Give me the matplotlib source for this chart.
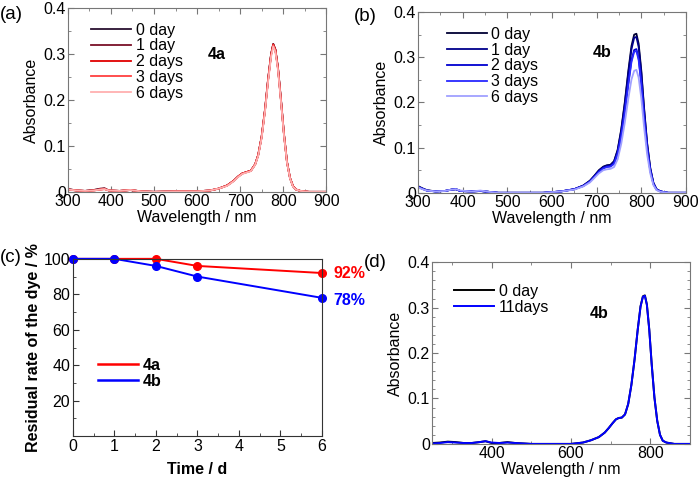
import matplotlib
matplotlib.use("Agg")
import matplotlib.pyplot as plt
from matplotlib.ticker import MultipleLocator
from matplotlib.lines import Line2D

plt.rcParams['font.family'] = ['Liberation Sans', 'DejaVu Sans']
plt.rcParams['font.size'] = 11.5

# ---- data ----
wl_a = [300, 320, 340, 360, 375, 385, 395, 420, 445, 470, 500, 550, 600, 630, 650,
        670, 685, 695, 705, 715, 725, 735, 742, 750, 758, 765, 772, 777, 782, 788,
        795, 802, 809, 816, 823, 830, 840, 860, 900]
abs_a = [
    [.006, .003, .002, .004, .006, .007, .003, .002, .004, .001, .000, .001, .001, .003, .007,
     .014, .024, .033, .040, .043, .046, .060, .080, .120, .180, .245, .300, .322, .310, .270,
     .200, .125, .065, .030, .012, .005, .002, .000, .000],
    [.006, .003, .002, .004, .007, .008, .003, .002, .004, .001, .000, .001, .001, .003, .007,
     .014, .024, .033, .040, .043, .046, .060, .080, .120, .180, .245, .300, .322, .310, .270,
     .200, .125, .065, .030, .012, .005, .002, .000, .000],
    [.005, .003, .002, .003, .005, .006, .003, .002, .004, .001, .000, .001, .001, .003, .007,
     .014, .024, .033, .040, .043, .046, .060, .080, .120, .180, .244, .299, .321, .309, .269,
     .199, .124, .064, .030, .012, .005, .002, .000, .000],
    [.005, .003, .002, .003, .005, .006, .003, .002, .004, .001, .000, .001, .001, .003, .007,
     .014, .024, .033, .040, .043, .046, .060, .080, .119, .179, .243, .298, .320, .308, .268,
     .198, .124, .064, .030, .012, .005, .002, .000, .000],
    [.005, .003, .002, .003, .005, .006, .003, .002, .004, .001, .000, .001, .001, .003, .007,
     .013, .023, .032, .039, .042, .045, .059, .078, .117, .176, .240, .294, .317, .305, .265,
     .196, .122, .063, .029, .011, .005, .002, .000, .000],
]
labels_a = ['0 day', '1 day', '2 days', '3 days', '6 days']
colors_a = ['#2a1030', '#7a1028', '#e00000', '#ff4040', '#ffb0b0']

wl_b = [300, 310, 320, 340, 360, 375, 385, 395, 420, 440, 460, 480, 520, 580, 620,
        650, 670, 685, 695, 705, 715, 723, 731, 739, 747, 755, 763, 771, 778, 784,
        789, 794, 800, 806, 813, 820, 827, 834, 843, 860, 900]
abs_b = [
    [.015, .010, .006, .003, .004, .007, .008, .004, .003, .004, .002, .000, .000, .000, .003,
     .008, .016, .027, .038, .050, .058, .061, .062, .070, .095, .140, .200, .270, .325, .350,
     .352, .330, .270, .190, .110, .055, .022, .008, .003, .000, .000],
    [.014, .009, .005, .003, .004, .007, .008, .004, .003, .004, .002, .000, .000, .000, .003,
     .008, .016, .026, .037, .049, .057, .060, .061, .069, .093, .137, .196, .265, .318, .343,
     .345, .323, .265, .186, .108, .054, .022, .008, .003, .000, .000],
    [.013, .009, .005, .003, .004, .007, .008, .004, .003, .004, .002, .000, .000, .000, .003,
     .008, .015, .025, .036, .047, .055, .058, .059, .065, .087, .127, .181, .244, .294, .316,
     .318, .298, .244, .172, .099, .050, .020, .007, .003, .000, .000],
    [.013, .009, .005, .003, .004, .007, .008, .004, .003, .004, .002, .000, .000, .000, .003,
     .008, .015, .025, .035, .046, .054, .057, .058, .064, .086, .125, .178, .240, .290, .312,
     .314, .294, .240, .169, .098, .049, .020, .007, .003, .000, .000],
    [.012, .008, .005, .003, .004, .007, .008, .005, .003, .005, .002, .000, .000, .000, .003,
     .007, .014, .023, .033, .043, .050, .052, .053, .057, .074, .108, .155, .209, .251, .270,
     .272, .255, .209, .147, .085, .043, .017, .006, .002, .000, .000],
]
labels_b = ['0 day', '1 day', '2 days', '3 days', '6 days']
colors_b = ['#000033', '#00008b', '#0000d0', '#2828ff', '#a0a0ff']

days_c = [0, 1, 2, 3, 6]
rate_4a = [100, 100, 100, 96, 92]
rate_4b = [100, 100, 96, 90, 78]

wl_d = [250, 270, 290, 310, 330, 350, 370, 385, 400, 420, 440, 460, 500, 550, 600,
        630, 650, 670, 685, 695, 705, 713, 720, 728, 736, 744, 752, 760, 768, 775,
        781, 786, 791, 797, 803, 810, 817, 824, 831, 840, 860, 900]
abs_d0 = [.002, .003, .005, .004, .002, .002, .004, .006, .002, .002, .004, .002, .000, .000, .000,
          .003, .008, .015, .025, .035, .046, .054, .057, .058, .065, .088, .130, .186, .252, .303,
          .325, .327, .307, .252, .177, .102, .051, .020, .007, .003, .000, .000]
abs_d11 = [.001, .002, .004, .003, .002, .002, .004, .006, .003, .002, .003, .002, .000, .000, .000,
           .003, .008, .015, .025, .035, .046, .054, .057, .058, .065, .088, .130, .186, .252, .302,
           .324, .326, .306, .251, .176, .102, .051, .020, .007, .003, .000, .000]

frame_col = '#777777'


def style_spectrum(ax, xlim, xmajor, xminor, yminor):
    ax.set_xlim(xlim)
    ax.set_ylim(0, 0.4)
    ax.xaxis.set_major_locator(MultipleLocator(xmajor))
    ax.xaxis.set_minor_locator(MultipleLocator(xminor))
    ax.yaxis.set_minor_locator(MultipleLocator(yminor))
    ax.set_yticks([0, 0.1, 0.2, 0.3, 0.4])
    ax.set_yticklabels(['0', '0.1', '0.2', '0.3', '0.4'])
    ax.tick_params(which='both', direction='in', top=True, right=True, color=frame_col,
                   pad=1.5, labelsize=11.5)
    ax.tick_params(which='major', length=4)
    ax.tick_params(which='minor', length=2.5)
    for s in ax.spines.values():
        s.set_color(frame_col)
        s.set_linewidth(0.8)
    ax.set_xlabel('Wavelength / nm', labelpad=1)
    ax.set_ylabel('Absorbance', labelpad=3)


def add_legend(ax, anchor, handles=None, prop=None):
    kw = dict(loc='upper left', bbox_to_anchor=anchor, frameon=False, borderpad=0,
              borderaxespad=0, handlelength=2.5, handletextpad=0.3, labelspacing=0.05)
    if prop is not None:
        kw['prop'] = prop
    else:
        kw['fontsize'] = 11.5
    if handles is not None:
        return ax.legend(handles=handles, **kw)
    return ax.legend(**kw)


fig = plt.figure(figsize=(7, 4.82), dpi=100)

# (a)
ax1 = fig.add_axes([0.097, 0.602, 0.369, 0.381])
for y, lab, c in zip(abs_a, labels_a, colors_a):
    ax1.plot(wl_a, y, color=c, lw=1.3, label=lab)
style_spectrum(ax1, (300, 900), 100, 50, 0.05)
add_legend(ax1, (0.09, 0.922))
ax1.text(645, 0.3, '4a', fontweight='bold', fontsize=11.5, ha='center', va='center')

# (b)
ax2 = fig.add_axes([0.597, 0.600, 0.383, 0.375])
for y, lab, c in zip(abs_b, labels_b, colors_b):
    ax2.plot(wl_b, y, color=c, lw=1.3, label=lab)
style_spectrum(ax2, (300, 900), 100, 50, 0.05)
add_legend(ax2, (0.107, 0.918))
ax2.text(712, 0.31, '4b', fontweight='bold', fontsize=11.5, ha='center', va='center')

# (c)
ax3 = fig.add_axes([0.104, 0.095, 0.356, 0.368])
ax3.plot(days_c, rate_4a, color='#ff0000', lw=1.4, marker='o', ms=5.5, clip_on=False)
ax3.plot(days_c, rate_4b, color='#0000ff', lw=1.4, marker='o', ms=5.5, clip_on=False)
ax3.set_xlim(0, 6)
ax3.set_ylim(0, 100)
ax3.set_xticks(range(0, 7))
ax3.set_yticks([20, 40, 60, 80, 100])
ax3.xaxis.set_minor_locator(MultipleLocator(0.5))
ax3.yaxis.set_minor_locator(MultipleLocator(10))
ax3.tick_params(which='both', direction='in', color='#333333', pad=2, labelsize=11.5)
ax3.tick_params(which='major', length=4)
ax3.tick_params(which='minor', length=2.5)
for s in ax3.spines.values():
    s.set_color('#333333')
    s.set_linewidth(0.8)
ax3.set_xlabel('Time / d', fontweight='bold', labelpad=6)
ax3.set_ylabel('Residual rate of the dye / %', fontweight='bold', labelpad=2)
h_c = [Line2D([], [], color='#ff0000', lw=1.8, label='4a'),
       Line2D([], [], color='#0000ff', lw=1.8, label='4b')]
add_legend(ax3, (0.1, 0.442), handles=h_c, prop={'weight': 'bold', 'size': 11.5})
ax3.annotate('92%', (days_c[-1], rate_4a[-1]), xytext=(8, 0), textcoords='offset points',
             color='#ff0000', fontweight='bold', va='center', annotation_clip=False)
ax3.annotate('78%', (days_c[-1], rate_4b[-1]), xytext=(8, -2), textcoords='offset points',
             color='#0000ff', fontweight='bold', va='center', annotation_clip=False)

# (d)
ax4 = fig.add_axes([0.617, 0.079, 0.369, 0.377])
ax4.plot(wl_d, abs_d0, color='#000000', lw=1.4, label='0 day')
ax4.plot(wl_d, abs_d11, color='#0000ff', lw=1.4, label='11days')
style_spectrum(ax4, (250, 900), 200, 100, 0.02)
add_legend(ax4, (0.087, 0.88))
ax4.text(671, 0.286, '4b', fontweight='bold', fontsize=11.5, ha='center', va='center')

# panel letters
fig.text(0.0, 0.97, '(a)', fontsize=13.5, va='center')
fig.text(0.505, 0.965, '(b)', fontsize=13.5, va='center')
fig.text(0.0, 0.465, '(c)', fontsize=13.5, va='center')
fig.text(0.52, 0.455, '(d)', fontsize=13.5, va='center')

fig.savefig('out.png', dpi=100)
